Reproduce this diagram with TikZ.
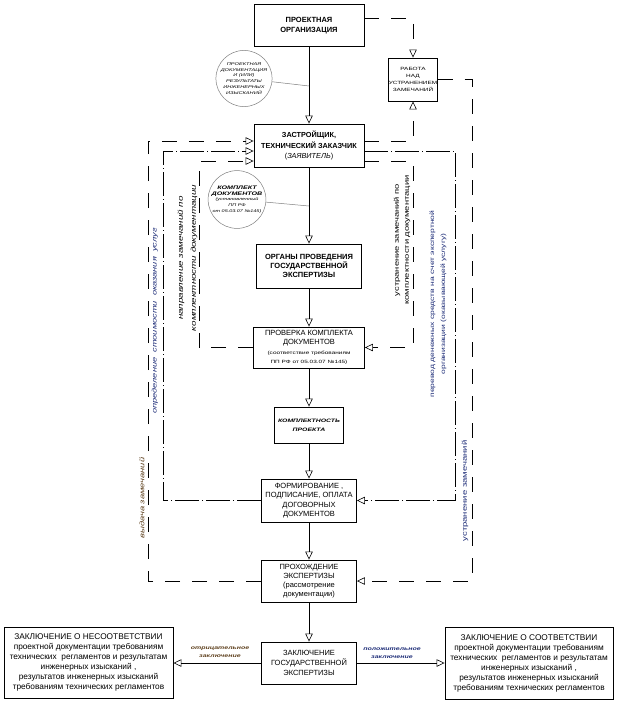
\documentclass[tikz,border=0pt]{standalone}
\usepackage{fontspec}
\setmainfont{Liberation Sans}
\newfontfamily\wide[FakeStretch=1.4]{Liberation Sans}
\usetikzlibrary{arrows.meta}
\definecolor{navy}{RGB}{30,45,120}
\definecolor{brn}{RGB}{95,65,30}
\newcommand{\fs}[2]{\fontsize{#1}{#2}\selectfont}
\newcommand{\smt}[1]{{\wide\fs{4.6}{5.7}#1}}
\newcommand{\kdt}[1]{{\wide\bfseries\itshape\fs{5.1}{6.7}#1}}
\begin{document}
\begin{tikzpicture}[x=1pt,y=-1pt,
  box/.style={draw, line width=0.9pt, align=center, inner sep=0pt},
  circ/.style={draw=gray, line width=0.5pt, circle, inner sep=0pt, align=center},
  cline/.style={draw=gray, line width=0.5pt},
  conn/.style={line width=0.8pt},
  arr/.style={-{Triangle[open,length=8pt,width=7.5pt,line width=0.6pt]}},
  dsh/.style={conn, dash pattern=on 15pt off 12pt},
  ddot/.style={conn, dash pattern=on 24pt off 3pt on 1pt off 3pt},
  lbl/.style={align=center, inner sep=0pt, rotate=90}
]
\useasboundingbox[fill=white] (0,0) rectangle (617,701);

% boxes
\node[box, minimum width=110pt, minimum height=42pt, font=\fs{7.5}{10}\bfseries] (po) at (309,25.5) {ПРОЕКТНАЯ\\ОРГАНИЗАЦИЯ};
\node[box, minimum width=48pt, minimum height=43pt, font=\wide\fs{4.6}{6.8}] (rab) at (413,79.5) {РАБОТА\\НАД\\УСТРАНЕНИЕМ\\ЗАМЕЧАНИЙ};
\node[circ, minimum size=55pt, font=\wide\itshape\fs{4}{5.8}] (c1) at (244,78.5) {ПРОЕКТНАЯ\\ДОКУМЕНТАЦИЯ\\И (ИЛИ)\\РЕЗУЛЬТАТЫ\\ИНЖЕНЕРНЫХ\\ИЗЫСКАНИЙ};
\node[box, minimum width=110pt, minimum height=43pt, font=\fs{7.3}{10.5}] (zas) at (309,145.5) {\textbf{ЗАСТРОЙЩИК,}\\\textbf{ТЕХНИЧЕСКИЙ ЗАКАЗЧИК}\\(\textit{ЗАЯВИТЕЛЬ})};
\node[circ, minimum size=50pt, font=\wide\itshape\fs{3.9}{5.8}] (c2) at (237,199.5) {\kdt{КОМПЛЕКТ}\\\kdt{ДОКУМЕНТОВ}\\(установленный\\ПП РФ\\от 05.03.07 №145)};
\node[box, minimum width=105pt, minimum height=44pt, font=\fs{7.5}{9.3}\bfseries] (org) at (309,266) {ОРГАНЫ ПРОВЕДЕНИЯ\\ГОСУДАРСТВЕННОЙ\\ЭКСПЕРТИЗЫ};
\node[box, minimum width=111pt, minimum height=41pt, font=\fs{7.5}{9.3}] (pro) at (309,347.5) {ПРОВЕРКА КОМПЛЕКТА\\ДОКУМЕНТОВ\\\smt{(соответствие требованиям}\\\smt{ПП РФ от 05.03.07 №145)}};
\node[box, minimum width=69pt, minimum height=36pt, font=\wide\bfseries\itshape\fs{4.9}{9}] (kom) at (309,425) {КОМПЛЕКТНОСТЬ\\ПРОЕКТА};
\node[box, minimum width=95pt, minimum height=43pt, font=\fs{7.5}{9.3}] (for) at (309,500.5) {ФОРМИРОВАНИЕ ,\\ПОДПИСАНИЕ, ОПЛАТА\\ДОГОВОРНЫХ\\ДОКУМЕНТОВ};
\node[box, minimum width=95pt, minimum height=42pt, font=\fs{7.5}{9.2}] (prx) at (309,581) {ПРОХОЖДЕНИЕ\\ЭКСПЕРТИЗЫ\\(рассмотрение\\документации)};
\node[box, minimum width=95pt, minimum height=42pt, font=\fs{7.5}{10}] (zak) at (309,663) {ЗАКЛЮЧЕНИЕ\\ГОСУДАРСТВЕННОЙ\\ЭКСПЕРТИЗЫ};
\node[box, minimum width=169pt, minimum height=71pt, font=\fs{8.3}{10}] (lft) at (88.5,662.5) {ЗАКЛЮЧЕНИЕ О НЕСООТВЕТСТВИИ\\проектной документации требованиям\\технических\ \ регламентов и результатам\\инженерных изысканий ,\\результатов инженерных изысканий\\требованиям технических регламентов};
\node[box, minimum width=168pt, minimum height=72pt, font=\fs{8.3}{10}] (rgt) at (529,663) {ЗАКЛЮЧЕНИЕ О СООТВЕТСТВИИ\\проектной документации требованиям\\технических\ \ регламентов и результатам\\инженерных изысканий ,\\результатов инженерных изысканий\\требованиям технических регламентов};

% labels
\node[align=center, inner sep=0pt, text=brn, font=\wide\bfseries\itshape\fs{5}{7.7}] (neg) at (220,652) {отрицательное\\заключение};
\node[align=center, inner sep=0pt, text=navy, font=\wide\bfseries\itshape\fs{5}{7.7}] (pos) at (392,653) {положительное\\заключение};
\node[lbl, text=navy, font=\wide\itshape\fs{6.6}{9}] (opr) at (155,321) {определение\ \ стоимости\ \ оказания\ \ услуг};
\node[lbl, font=\wide\itshape\fs{7}{13}] (napr) at (187.5,258) {направление замечаний по\\комплектности документации};
\node[lbl, font=\wide\fs{6.7}{10}] (ustr) at (402,240) {устранение замечаний по\\комплектности документации};
\node[lbl, text=navy, font=\wide\fs{6.1}{11}] (perev) at (438,304) {перевод денежных средств на счет экспертной\\организации (оказывающей услугу)};
\node[lbl, text=brn, font=\wide\itshape\fs{6.7}{8}] (vyd) at (142,498) {выдача замечаний};
\node[lbl, text=navy, font=\wide\fs{6.8}{8}] (ustz) at (465,491) {устранение замечаний};

% main line
\coordinate (j1) at (309,86);
\coordinate (j2) at (309,206);
\draw[conn,arr] (po) -- (zas);
\draw[cline] (c1) -- (j1);
\draw[conn,arr] (zas) -- (org);
\draw[cline] (c2) -- (j2);
\draw[conn,arr] (org) -- (pro);
\draw[conn,arr] (pro) -- (kom);
\draw[conn,arr] (kom) -- (for);
\draw[conn,arr] (for) -- (prx);
\draw[conn,arr] (prx) -- (zak);
\draw[conn,arr] (zak.west) -- (zak.west -| lft.east);
\draw[conn,arr] (zak.east) -- (zak.east -| rgt.west);

% right side
\coordinate (t1) at (413,18.5);
\draw[dsh,arr] (po.east |- t1) -- (t1) -- (rab.north);
\coordinate (t2) at (413,141);
\draw[dsh,arr] (zas.east |- t2) -- (t2) -- (rab.south);
\coordinate (r1) at (472,79.5);
\draw[dsh,arr] (rab.east) -- (r1) |- (prx.east);
\coordinate (r2) at (413,161);
\draw[dsh,arr] (zas.east |- r2) -- (r2) |- (pro.east);
\coordinate (r3) at (455,151);
\draw[ddot,arr] (zas.east |- r3) -- (r3) |- (for.east);

% left side
\coordinate (l1) at (148,141);
\draw[dsh,arr] (prx.west) -| (l1) -- (zas.west |- l1);
\coordinate (l2) at (163,151);
\draw[ddot,arr] (for.west) -| (l2) -- (zas.west |- l2);
\coordinate (l3) at (199,161);
\draw[dsh,arr] (pro.west) -| (l3) -- (zas.west |- l3);
\end{tikzpicture}
\end{document}
